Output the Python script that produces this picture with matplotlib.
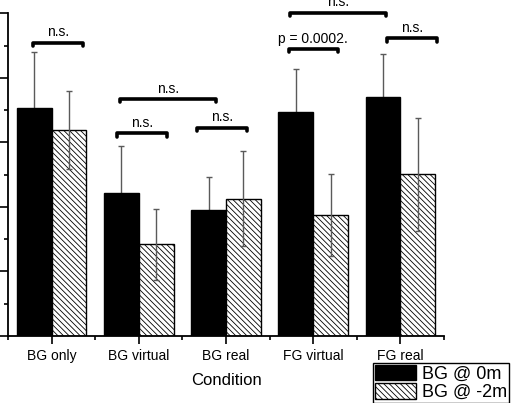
import numpy as np
import matplotlib
matplotlib.use('Agg')
import matplotlib.pyplot as plt

plt.rcParams['font.family'] = ['Liberation Sans', 'DejaVu Sans']
plt.rcParams['hatch.linewidth'] = 0.6
plt.rcParams['hatch.color'] = 'black'

# Data
conditions = ['BG only', 'BG virtual', 'BG real', 'FG virtual', 'FG real']
bg_0m = [7.06, 4.42, 3.90, 6.95, 7.40]
bg_0m_err = [1.75, 1.47, 1.04, 1.31, 1.34]
bg_m2m = [6.39, 2.84, 4.25, 3.75, 5.01]
bg_m2m_err = [1.20, 1.10, 1.47, 1.28, 1.76]
series_labels = ['BG @ 0m', 'BG @ -2m']

# significance brackets: (x left, x right, y, label)
brackets = [
    (0.79, 1.36, 9.09, 'n.s.'),
    (1.75, 2.32, 6.28, 'n.s.'),
    (2.67, 3.24, 6.45, 'n.s.'),
    (1.79, 2.89, 7.34, 'n.s.'),
    (3.72, 4.28, 8.89, 'p = 0.0002.'),
    (3.73, 4.83, 10.02, 'n.s.'),
    (4.85, 5.42, 9.22, 'n.s.'),
]

x = np.arange(1, len(conditions) + 1)
w = 0.4

fig = plt.figure(figsize=(5.13, 4.03), dpi=100)
ax = fig.add_axes([8/513, 1 - 336/403, 436/513, 322.7/403])

ecol = '#5a5a5a'
# black bar error bars sit behind the bars so only the upper half shows
ax.errorbar(x - w/2, bg_0m, yerr=bg_0m_err, fmt='none', ecolor=ecol,
            elinewidth=1, capsize=2.3, capthick=1, zorder=1)
b1 = ax.bar(x - w/2, bg_0m, w, color='black', edgecolor='black', lw=1,
            zorder=2, label=series_labels[0])
b2 = ax.bar(x + w/2, bg_m2m, w, color='white', edgecolor='black', lw=1,
            hatch='\\' * 6, zorder=2, label=series_labels[1])
ax.errorbar(x + w/2, bg_m2m, yerr=bg_m2m_err, fmt='none', ecolor=ecol,
            elinewidth=1, capsize=2.3, capthick=1, zorder=3)

for xl, xr, yb, lab in brackets:
    h = 0.1
    ax.plot([xl, xl, xr, xr], [yb - h, yb, yb, yb - h], color='black',
            lw=2.6, solid_capstyle='round', solid_joinstyle='round',
            clip_on=False, zorder=4)
    ax.text((xl + xr) / 2, yb + 0.2, lab, ha='center', va='baseline',
            fontsize=10, clip_on=False)

ax.set_xlim(0.5, 5.5)
ax.set_ylim(0, 10)
ax.set_xticks(x)
ax.set_xticklabels(conditions, fontsize=10)
ax.set_xticks(np.arange(0.5, 5.6, 1), minor=True)
ax.set_yticks(np.arange(0, 11, 2))
ax.set_yticks(np.arange(1, 10, 2), minor=True)
ax.set_yticklabels([])
ax.tick_params(which='major', length=6, width=1.2, direction='out')
ax.tick_params(which='minor', length=3, width=1.2, direction='out')
ax.set_xlabel('Condition', fontsize=12, labelpad=7)

for s in ['top', 'right']:
    ax.spines[s].set_visible(False)
for s in ['left', 'bottom']:
    ax.spines[s].set_linewidth(1.3)

leg = fig.legend(handles=[b1, b2], loc='upper left',
                 bbox_to_anchor=(373/513, 1 - 362.7/403), fontsize=13,
                 frameon=True, fancybox=False, framealpha=1, edgecolor='black',
                 handlelength=2.27, handleheight=0.94, handletextpad=0.3,
                 labelspacing=0.02, borderpad=0.12, borderaxespad=0)
leg.get_frame().set_linewidth(1)

fig.savefig('out.png', dpi=100)
